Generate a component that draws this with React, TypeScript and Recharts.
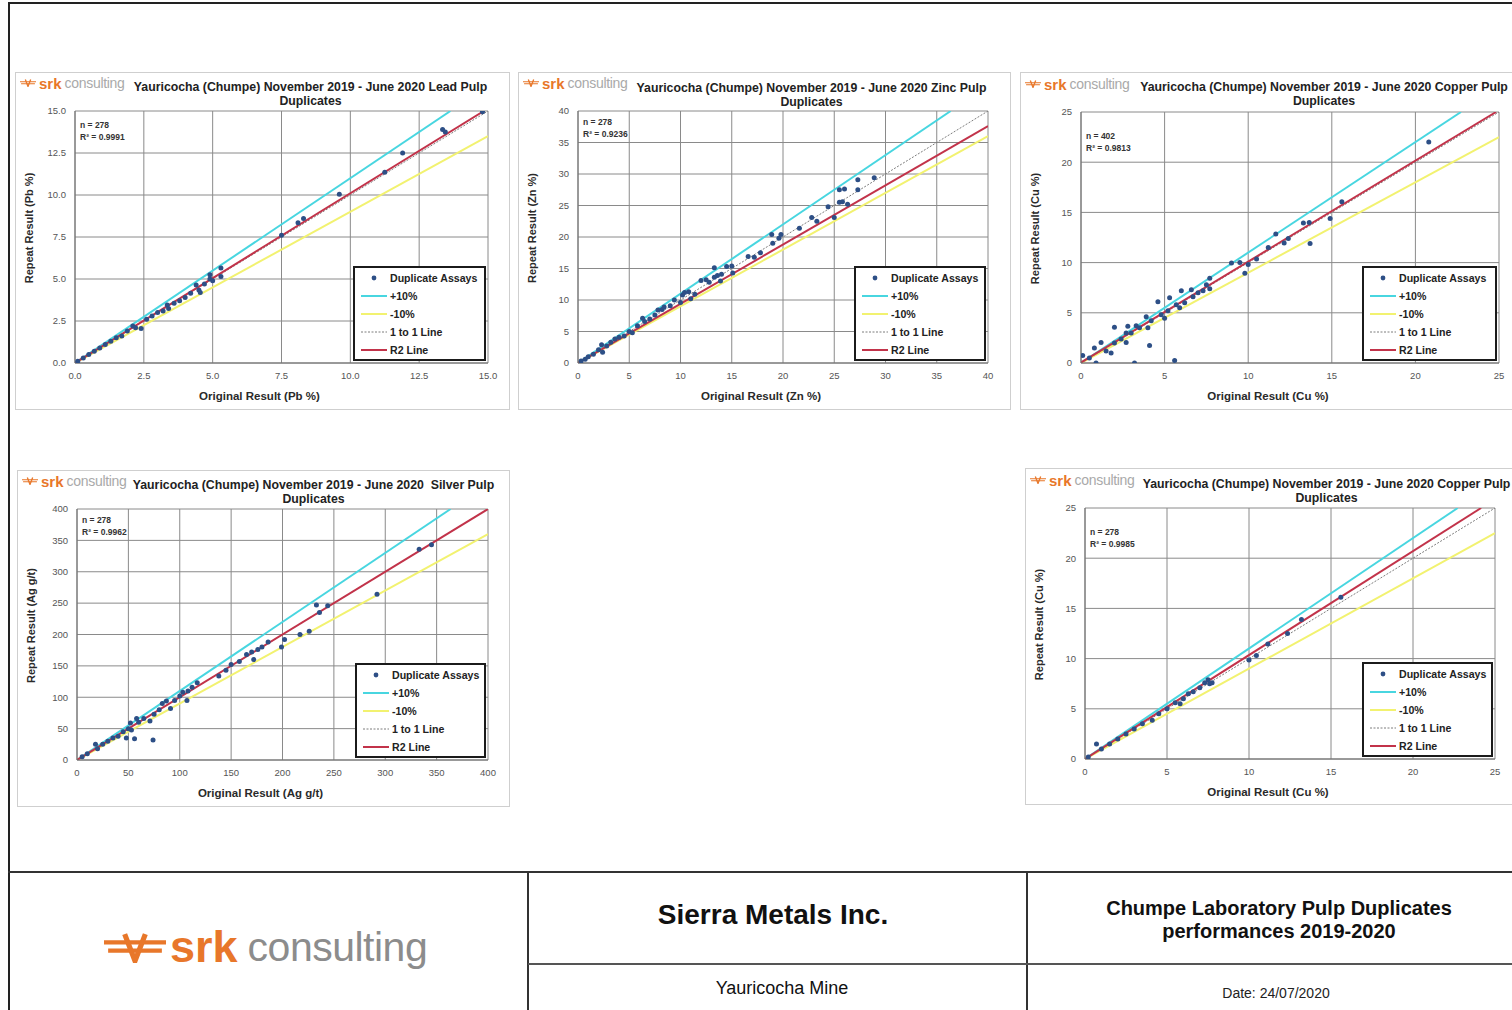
import React from 'react';
import { ComposedChart, Scatter, Line, XAxis, YAxis, CartesianGrid, Legend } from 'recharts';

const FONT = '"Liberation Sans", Arial, Helvetica, sans-serif';
const CYAN = '#48d6e0';
const YELLOW = '#f2f270';
const ONE_GRAY = '#7d7d7d';
const RED = '#c2334a';
const DOT = '#2d4f86';
const ORANGE = '#e8772a';

// ---------- Lead ----------
const PB_ORIGINAL = [0.1, 0.3, 0.5, 0.7, 0.9, 1.1, 1.3, 1.5, 1.7, 1.9, 2.1, 2.2, 2.4, 2.6, 2.8, 3.0, 3.2, 3.35, 3.4, 3.6, 3.8, 4.0, 4.2, 4.4, 4.5, 4.55, 4.7, 4.9, 4.9, 5.0, 5.3, 5.3, 7.5, 8.1, 8.3, 9.6, 11.25, 11.9, 13.35, 13.45, 14.8];
const PB_REPEAT = [0.1, 0.3, 0.5, 0.7, 0.9, 1.1, 1.3, 1.5, 1.6, 1.9, 2.2, 2.1, 2.05, 2.6, 2.8, 3.0, 3.1, 3.45, 3.25, 3.55, 3.7, 3.9, 4.15, 4.65, 4.35, 4.2, 4.7, 5.0, 5.25, 4.9, 5.65, 5.15, 7.6, 8.35, 8.6, 10.05, 11.35, 12.5, 13.9, 13.75, 14.95];
const PB_TICKS = [0, 2.5, 5, 7.5, 10, 12.5, 15];

// ---------- Zinc ----------
const ZN_ORIGINAL = [0.3, 0.7, 1.0, 1.5, 2.0, 2.3, 2.4, 2.8, 3.2, 3.6, 4.0, 4.5, 5.0, 5.3, 5.8, 6.3, 6.5, 7.0, 7.5, 7.8, 8.2, 8.4, 9.0, 9.4, 10.0, 10.2, 10.4, 10.8, 11.0, 11.4, 12.0, 12.5, 12.8, 13.3, 13.3, 13.6, 14.0, 13.9, 14.5, 15.0, 15.1, 16.6, 17.2, 17.8, 18.9, 19.0, 19.6, 19.8, 21.6, 22.8, 23.3, 24.4, 25.0, 25.5, 25.5, 26.0, 25.8, 26.3, 27.3, 27.3, 28.9];
const ZN_REPEAT = [0.3, 0.6, 1.0, 1.4, 2.1, 2.9, 1.7, 2.7, 3.3, 3.8, 4.1, 4.3, 5.0, 4.8, 5.9, 7.1, 6.6, 7.0, 7.6, 8.4, 8.5, 8.9, 9.1, 10.0, 9.6, 10.8, 11.2, 11.3, 10.2, 10.9, 13.1, 13.2, 12.8, 15.1, 13.6, 13.9, 14.1, 13.0, 15.3, 15.4, 14.3, 16.9, 16.8, 17.5, 20.4, 19.0, 19.8, 20.4, 21.4, 23.1, 22.5, 24.8, 23.1, 25.5, 27.5, 27.6, 25.6, 25.2, 29.1, 27.5, 29.4];
const ZN_TICKS = [0, 5, 10, 15, 20, 25, 30, 35, 40];

// ---------- Copper (402) ----------
const CU_ORIGINAL = [0.1, 0.5, 0.8, 0.9, 1.2, 1.5, 1.8, 2.0, 2.0, 2.4, 2.7, 2.7, 2.8, 3.0, 3.2, 3.3, 3.5, 3.9, 4.0, 4.1, 4.2, 4.6, 4.8, 5.0, 5.3, 5.2, 5.6, 5.7, 5.9, 6.0, 6.2, 6.6, 6.7, 7.0, 7.3, 7.5, 7.7, 7.7, 9.0, 9.5, 9.8, 10.0, 10.5, 11.2, 11.65, 12.15, 12.4, 13.3, 13.65, 13.7, 14.9, 15.6, 20.8];
const CU_REPEAT = [0.75, 0.5, 1.5, 0.0, 2.05, 1.2, 1.0, 3.55, 2.0, 2.4, 3.0, 2.05, 3.65, 3.0, 0.0, 3.7, 3.5, 4.6, 3.5, 1.75, 4.2, 6.1, 4.8, 4.45, 6.5, 5.2, 0.25, 5.8, 5.5, 7.2, 6.0, 7.3, 6.6, 7.0, 7.2, 7.8, 8.45, 7.4, 9.95, 10.0, 8.95, 9.8, 10.35, 11.5, 12.85, 11.95, 12.4, 13.95, 14.0, 11.9, 14.4, 16.05, 22.0];
const CU_TICKS = [0, 5, 10, 15, 20, 25];

// ---------- Silver ----------
const AG_ORIGINAL = [5, 10, 18, 20, 25, 30, 35, 40, 45, 48, 50, 52, 53, 56, 58, 60, 65, 71, 74, 75, 80, 83, 87, 91, 95, 100, 103, 107, 108, 112, 117, 138, 145, 150, 158, 165, 170, 172, 176, 180, 186, 199, 202, 217, 226, 233, 236, 244, 292, 333, 345];
const AG_REPEAT = [5, 10, 25, 18, 25, 30, 35, 38, 45, 35, 50, 59, 48, 34, 66, 60, 66, 62, 32, 73, 80, 90, 94, 82, 95, 102, 108, 95, 110, 116, 123, 134, 143, 152, 157, 168, 172, 160, 176, 180, 188, 180, 192, 200, 205, 247, 235, 246, 264, 336, 343];
const AG_TICKS = [0, 50, 100, 150, 200, 250, 300, 350, 400];

// ---------- Copper (278) ----------
const CU2_ORIGINAL = [0.2, 0.7, 1.0, 1.5, 2.0, 2.5, 3.0, 3.5, 4.1, 4.5, 5.0, 5.5, 5.8, 6.0, 6.3, 6.6, 7.0, 7.3, 7.5, 7.6, 7.75, 10.0, 10.45, 11.15, 12.35, 13.2, 15.6];
const CU2_REPEAT = [0.2, 1.5, 1.0, 1.5, 2.0, 2.5, 3.0, 3.5, 3.85, 4.5, 5.0, 5.6, 5.5, 6.0, 6.5, 6.7, 7.1, 7.6, 7.9, 7.5, 7.6, 9.85, 10.3, 11.45, 12.5, 13.9, 16.1];
const CU2_TICKS = [0, 5, 10, 15, 20, 25];

// fitted R2 lines [slope, intercept] and tolerance slopes (+10%, -10%, 1:1)
const FIT_PB = [1.01, 0];
const FIT_ZN = [0.94, 0];
const FIT_CU = [1.005, 0.05];
const FIT_AG = [1.0, 0];
const FIT_CU2 = [1.035, 0];
const TOLERANCE = [1.1, 0.9, 1.0];

const LEGEND_LABELS = ['Duplicate Assays', '+10%', '-10%', '1 to 1 Line', 'R2 Line'];

type Box = { left: number; top: number; width: number; height: number };
type Plot = { left: number; top: number; right: number; bottom: number };
type Cfg = {
  id: string;
  title1: string;
  xLabel: string;
  yLabel: string;
  original: number[];
  repeat: number[];
  ticks: number[];
  dec: number;
  fit: number[];
  n: string;
  r2: string;
  panel: Box;
  plot: Plot;
  statsDy: number;
  titleCy: number;
  titleL: number;
  titleR: number;
  logoCy: number;
  yLabelX: number;
  legendW: number;
};

const CHARTS: Cfg[] = [
  {
    id: 'pb', title1: 'Yauricocha (Chumpe) November 2019 - June 2020 Lead Pulp', xLabel: 'Original Result (Pb %)', yLabel: 'Repeat Result (Pb %)',
    original: PB_ORIGINAL, repeat: PB_REPEAT, ticks: PB_TICKS, dec: 1, fit: FIT_PB, n: '278', r2: '0.9991',
    panel: { left: 15, top: 72, width: 495, height: 338 }, plot: { left: 75, top: 111, right: 488, bottom: 363 },
    statsDy: 14, titleCy: 87, titleL: 133, titleR: 488, logoCy: 83, yLabelX: 29, legendW: 133,
  },
  {
    id: 'zn', title1: 'Yauricocha (Chumpe) November 2019 - June 2020 Zinc Pulp', xLabel: 'Original Result (Zn %)', yLabel: 'Repeat Result (Zn %)',
    original: ZN_ORIGINAL, repeat: ZN_REPEAT, ticks: ZN_TICKS, dec: 0, fit: FIT_ZN, n: '278', r2: '0.9236',
    panel: { left: 518, top: 72, width: 493, height: 338 }, plot: { left: 578, top: 111, right: 988, bottom: 363 },
    statsDy: 11, titleCy: 88, titleL: 636, titleR: 987, logoCy: 83, yLabelX: 532, legendW: 132,
  },
  {
    id: 'cu', title1: 'Yauricocha (Chumpe) November 2019 - June 2020 Copper Pulp', xLabel: 'Original Result (Cu %)', yLabel: 'Repeat Result (Cu %)',
    original: CU_ORIGINAL, repeat: CU_REPEAT, ticks: CU_TICKS, dec: 0, fit: FIT_CU, n: '402', r2: '0.9813',
    panel: { left: 1020, top: 72, width: 500, height: 338 }, plot: { left: 1081, top: 112, right: 1499, bottom: 363 },
    statsDy: 24, titleCy: 87, titleL: 1141, titleR: 1507, logoCy: 84, yLabelX: 1035, legendW: 135,
  },
  {
    id: 'ag', title1: 'Yauricocha (Chumpe) November 2019 - June 2020  Silver Pulp', xLabel: 'Original Result (Ag g/t)', yLabel: 'Repeat Result (Ag g/t)',
    original: AG_ORIGINAL, repeat: AG_REPEAT, ticks: AG_TICKS, dec: 0, fit: FIT_AG, n: '278', r2: '0.9962',
    panel: { left: 17, top: 470, width: 493, height: 337 }, plot: { left: 77, top: 509, right: 488, bottom: 760 },
    statsDy: 11, titleCy: 485, titleL: 133, titleR: 494, logoCy: 481, yLabelX: 31, legendW: 131,
  },
  {
    id: 'cu2', title1: 'Yauricocha (Chumpe) November 2019 - June 2020 Copper Pulp', xLabel: 'Original Result (Cu %)', yLabel: 'Repeat Result (Cu %)',
    original: CU2_ORIGINAL, repeat: CU2_REPEAT, ticks: CU2_TICKS, dec: 0, fit: FIT_CU2, n: '278', r2: '0.9985',
    panel: { left: 1025, top: 468, width: 495, height: 337 }, plot: { left: 1085, top: 508, right: 1495, bottom: 759 },
    statsDy: 24, titleCy: 484, titleL: 1143, titleR: 1510, logoCy: 480, yLabelX: 1039, legendW: 131,
  },
];

// a straight line y = slope*x + intercept, cut where it leaves the square plot
function segment(slope: number, intercept: number, max: number) {
  const xEnd = Math.min(max, (max - intercept) / slope);
  return [
    { x: 0, y: intercept },
    { x: xEnd, y: slope * xEnd + intercept },
  ];
}

function SrkIcon({ w }: { w: number }) {
  return (
    <svg width={w} height={w * 0.5} viewBox="0 0 60 30" style={{ display: 'block' }}>
      <path d="M0 10 H60 M4 18 H56" stroke={ORANGE} strokeWidth={4} fill="none" />
      <path d="M20 2 L30 28 L40 2" stroke={ORANGE} strokeWidth={5} fill="none" strokeLinejoin="miter" />
    </svg>
  );
}

function LegendBox({ w }: { w: number }) {
  return (
    <div style={{ width: w, height: 95, boxSizing: 'border-box', border: '2px solid #1b1b1b', background: '#fff', fontFamily: FONT, fontWeight: 'bold', fontSize: 10.6, color: '#222', paddingTop: 0.5 }}>
      {LEGEND_LABELS.map((label, i) => (
        <div key={label} style={{ height: 18.2, display: 'flex', alignItems: 'center', whiteSpace: 'nowrap' }}>
          <svg width={28} height={10} style={{ marginLeft: 5, marginRight: 2, flex: 'none' }}>
            {i === 0 && <circle cx={14} cy={5} r={2.4} fill={DOT} />}
            {i === 1 && <line x1={1} x2={27} y1={5} y2={5} stroke={CYAN} strokeWidth={2} />}
            {i === 2 && <line x1={1} x2={27} y1={5} y2={5} stroke={YELLOW} strokeWidth={2} />}
            {i === 3 && <line x1={1} x2={27} y1={5} y2={5} stroke={ONE_GRAY} strokeWidth={1} strokeDasharray="2 1.5" />}
            {i === 4 && <line x1={1} x2={27} y1={5} y2={5} stroke={RED} strokeWidth={2} />}
          </svg>
          <span>{label}</span>
        </div>
      ))}
    </div>
  );
}

function Panel({ c }: { c: Cfg }) {
  const { panel, plot } = c;
  const max = c.ticks[c.ticks.length - 1];
  const yAxisW = 50;
  const xAxisH = 40;
  const margin = {
    top: plot.top - panel.top,
    right: panel.left + panel.width - plot.right,
    left: plot.left - panel.left - yAxisW,
    bottom: panel.top + panel.height - plot.bottom - xAxisH,
  };
  const points = c.original.map((x, i) => ({ x, y: c.repeat[i] }));
  const plus = segment(TOLERANCE[0], 0, max);
  const minus = segment(TOLERANCE[1], 0, max);
  const one = segment(TOLERANCE[2], 0, max);
  const fit = segment(c.fit[0], c.fit[1], max);
  const fmt = (v: number) => v.toFixed(c.dec);
  const tickStyle = { fontSize: 9.5, fill: '#555', fontFamily: FONT };
  const legendLeft = plot.right - panel.left - 2 - c.legendW;
  const legendTop = plot.bottom - panel.top - 2 - 95;
  const titleStyle = { fontSize: 11.5, fontWeight: 'bold' as const, fill: '#2a2a2a', fontFamily: FONT };
  const xTitleX = (plot.left + plot.right) / 2 - 22 - panel.left;
  const xTitleY = plot.bottom - panel.top + 37;
  const yTitleX = c.yLabelX - panel.left + 4;
  const yTitleY = (plot.top + plot.bottom) / 2 - 9 - panel.top;

  return (
    <div style={{ position: 'absolute', left: panel.left, top: panel.top, width: panel.width, height: panel.height, background: '#fff' }}>
      <div style={{ position: 'absolute', left: 0, top: 0, width: panel.width, height: panel.height, boxSizing: 'border-box', border: '1px solid #cfcfcf' }} />
      {/* small srk logo */}
      <div style={{ position: 'absolute', left: 5, top: c.logoCy - panel.top - 9, height: 18, display: 'flex', alignItems: 'center', fontFamily: FONT, whiteSpace: 'nowrap' }}>
        <SrkIcon w={16} />
        <span style={{ color: ORANGE, fontWeight: 'bold', fontSize: 15, marginLeft: 3 }}>srk</span>
        <span style={{ color: '#a9a9a9', fontSize: 14, marginLeft: 3, letterSpacing: -0.3 }}>consulting</span>
      </div>
      {/* title */}
      <div style={{ position: 'absolute', left: c.titleL - panel.left - 20, width: c.titleR - c.titleL + 40, top: c.titleCy - panel.top - 7, textAlign: 'center', fontFamily: FONT, fontWeight: 'bold', fontSize: 12.3, lineHeight: '14px', color: '#222', whiteSpace: 'pre' }}>
        {c.title1}
        {'\n'}Duplicates
      </div>
      <div style={{ position: 'absolute', left: 0, top: 0 }}>
        <ComposedChart width={panel.width} height={panel.height} margin={margin} style={{ fontFamily: FONT }}>
          <CartesianGrid stroke="#8a8a8a" strokeWidth={1} horizontalValues={c.ticks} verticalValues={c.ticks} />
          <XAxis
            type="number"
            dataKey="x"
            domain={[0, max]}
            ticks={c.ticks}
            interval={0}
            tickFormatter={fmt}
            height={xAxisH}
            tick={tickStyle}
            tickLine={false}
            tickMargin={3}
            axisLine={{ stroke: '#6e6e6e' }}
            allowDataOverflow
            label={{
              value: c.xLabel,
              content: () => (
                <text x={xTitleX} y={xTitleY} textAnchor="middle" style={titleStyle}>
                  {c.xLabel}
                </text>
              ),
            }}
          />
          <YAxis
            type="number"
            dataKey="y"
            domain={[0, max]}
            ticks={c.ticks}
            interval={0}
            tickFormatter={fmt}
            width={yAxisW}
            tick={tickStyle}
            tickLine={false}
            tickMargin={3}
            axisLine={{ stroke: '#6e6e6e' }}
            allowDataOverflow
            label={{
              value: c.yLabel,
              content: () => (
                <text x={yTitleX} y={yTitleY} textAnchor="middle" transform={`rotate(-90, ${yTitleX}, ${yTitleY})`} style={{ ...titleStyle, fontSize: 11 }}>
                  {c.yLabel}
                </text>
              ),
            }}
          />
          <Line data={plus} dataKey="y" stroke={CYAN} strokeWidth={2} dot={false} isAnimationActive={false} legendType="none" />
          <Line data={minus} dataKey="y" stroke={YELLOW} strokeWidth={2} dot={false} isAnimationActive={false} legendType="none" />
          <Line data={one} dataKey="y" stroke={ONE_GRAY} strokeWidth={1} strokeDasharray="2 1.5" dot={false} isAnimationActive={false} legendType="none" />
          <Line data={fit} dataKey="y" stroke={RED} strokeWidth={2} dot={false} isAnimationActive={false} legendType="none" />
          <Scatter data={points} fill={DOT} isAnimationActive={false} shape={(p: any) => <circle cx={p.cx} cy={p.cy} r={2.5} fill={DOT} />} />
          <Legend
            layout="vertical"
            align="center"
            verticalAlign="middle"
            content={() => <LegendBox w={c.legendW} />}
            wrapperStyle={{ left: legendLeft, top: legendTop, width: c.legendW, height: 95 }}
          />
        </ComposedChart>
      </div>
      {/* statistics */}
      <div style={{ position: 'absolute', left: plot.left - panel.left + 5, top: plot.top - panel.top + c.statsDy - 6, fontFamily: FONT, fontWeight: 'bold', fontSize: 8.5, lineHeight: '12px', color: '#333', whiteSpace: 'pre' }}>
        {`n = ${c.n}\nR² = ${c.r2}`}
      </div>
    </div>
  );
}

export default function App() {
  return (
    <div style={{ position: 'absolute', left: 0, top: 0, width: 1512, height: 1010, background: '#fff', overflow: 'hidden', fontFamily: FONT }}>
      {/* outer frame */}
      <div style={{ position: 'absolute', left: 8, top: 2, width: 1504, height: 2, background: '#222' }} />
      <div style={{ position: 'absolute', left: 8, top: 2, width: 2, height: 1008, background: '#222' }} />

      {CHARTS.map((c) => (
        <Panel key={c.id} c={c} />
      ))}

      {/* title block */}
      <div style={{ position: 'absolute', left: 8, top: 871, width: 1504, height: 2, background: '#333' }} />
      <div style={{ position: 'absolute', left: 527, top: 872, width: 2, height: 138, background: '#333' }} />
      <div style={{ position: 'absolute', left: 1026, top: 872, width: 2, height: 138, background: '#333' }} />
      <div style={{ position: 'absolute', left: 528, top: 963, width: 984, height: 2, background: '#555' }} />

      <div style={{ position: 'absolute', left: 104, top: 924, height: 46, display: 'flex', alignItems: 'center', whiteSpace: 'nowrap' }}>
        <SrkIcon w={62} />
        <span style={{ color: ORANGE, fontWeight: 'bold', fontSize: 45, marginLeft: 4, letterSpacing: 0 }}>srk</span>
        <span style={{ color: '#8c8c8c', fontSize: 41, marginLeft: 10, letterSpacing: -0.5 }}>consulting</span>
      </div>

      <div style={{ position: 'absolute', left: 523, width: 500, top: 899, textAlign: 'center', fontWeight: 'bold', fontSize: 28, color: '#111' }}>Sierra Metals Inc.</div>
      <div style={{ position: 'absolute', left: 532, width: 500, top: 978, textAlign: 'center', fontSize: 18, color: '#111' }}>Yauricocha Mine</div>
      <div style={{ position: 'absolute', left: 1028, width: 502, top: 897, textAlign: 'center', fontWeight: 'bold', fontSize: 20, lineHeight: '23px', color: '#111' }}>
        Chumpe Laboratory Pulp Duplicates
        <br />
        performances 2019-2020
      </div>
      <div style={{ position: 'absolute', left: 1028, width: 496, top: 985, textAlign: 'center', fontSize: 14, color: '#222' }}>Date: 24/07/2020</div>
    </div>
  );
}
